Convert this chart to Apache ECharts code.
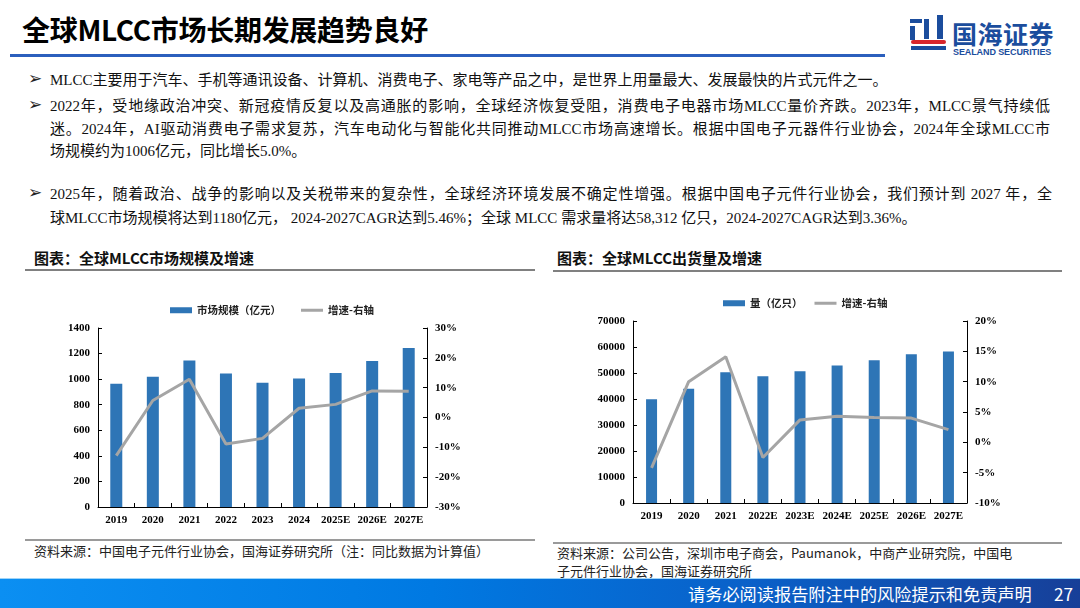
<!DOCTYPE html>
<html>
<head>
<meta charset="utf-8">
<script src="https://cdn.jsdelivr.net/npm/echarts@6/dist/echarts.min.js"></script>
<style>
  html,body{margin:0;padding:0;background:#fff;}
  body{width:1080px;height:608px;position:relative;overflow:hidden;font-family:"Liberation Serif","Noto Sans CJK SC",serif;}
  .abs{position:absolute;white-space:nowrap;}
  .title{left:22px;top:9px;font:bold 28px "Noto Sans CJK SC","Liberation Sans",sans-serif;color:#000;letter-spacing:-0.3px;}
  .tline{left:10px;top:54px;width:875px;height:3px;background:#2b5fbd;}
  .bul{font:bold 17px "DejaVu Sans",sans-serif;color:#222;left:28px;}
  .tx{left:50px;font-size:15px;color:#111;line-height:20px;}
  .j{width:1000px;text-align:justify;text-align-last:justify;white-space:normal;}
  .ct{font:bold 15px "Noto Sans CJK SC",sans-serif;color:#111;}
  .ul{height:2px;background:#808080;}
  .src{font:13px "Noto Sans CJK SC",sans-serif;color:#222;line-height:18px;}
  .foot{left:0;top:578px;width:1080px;height:30px;background:linear-gradient(90deg,#0b8ff2 0%,#0079e2 40%,#0a60c8 70%,#173f98 100%);border-top:1px solid #9fd4f7;}
  .ft{color:#fff;font:17.2px "Noto Sans CJK SC",sans-serif;}
  .logo-t{left:952px;top:15px;font:bold 25px "Noto Sans CJK SC",sans-serif;color:#1b4d9d;letter-spacing:0.5px;}
  .logo-s{left:953px;top:47px;font:bold 9px "Liberation Sans",sans-serif;color:#1b4d9d;letter-spacing:-0.1px;}
  .lb{background:#1b4d9d;}
  .lr{background:#d8262c;}
  #chart{position:absolute;left:0;top:0;width:1080px;height:608px;}
</style>
</head>
<body>
<div class="abs title">全球MLCC市场长期发展趋势良好</div>
<div class="abs tline"></div>

<div class="abs lb" style="left:910px;top:19px;width:12px;height:4px;"></div>
<div class="abs lb" style="left:910px;top:26px;width:5px;height:14px;"></div>
<div class="abs lb" style="left:924px;top:19px;width:5px;height:20px;"></div>
<div class="abs lb" style="left:937px;top:15px;width:6px;height:24px;"></div>
<div class="abs lr" style="left:911px;top:40px;width:35px;height:4px;border-radius:2px;"></div>
<div class="abs lb" style="left:911px;top:46px;width:35px;height:4px;"></div>
<div class="abs logo-t">国海证券</div>
<div class="abs logo-s">SEALAND SECURITIES</div>

<div class="abs bul" style="top:68px;">➢</div>
<div class="abs tx" style="top:70px;">MLCC主要用于汽车、手机等通讯设备、计算机、消费电子、家电等产品之中，是世界上用量最大、发展最快的片式元件之一。</div>
<div class="abs bul" style="top:94px;">➢</div>
<div class="abs tx j" style="top:96px;">2022年，受地缘政治冲突、新冠疫情反复以及高通胀的影响，全球经济恢复受阻，消费电子电器市场MLCC量价齐跌。2023年，MLCC景气持续低</div>
<div class="abs tx j" style="top:119px;">迷。2024年，AI驱动消费电子需求复苏，汽车电动化与智能化共同推动MLCC市场高速增长。根据中国电子元器件行业协会，2024年全球MLCC市</div>
<div class="abs tx" style="top:141px;">场规模约为1006亿元，同比增长5.0%。</div>
<div class="abs bul" style="top:182px;">➢</div>
<div class="abs tx j" style="top:184px;width:1002px;">2025年，随着政治、战争的影响以及关税带来的复杂性，全球经济环境发展不确定性增强。根据中国电子元件行业协会，我们预计到 2027 年，全</div>
<div class="abs tx" style="top:208px;">球MLCC市场规模将达到1180亿元， 2024-2027CAGR达到5.46%；全球 MLCC 需求量将达58,312 亿只，2024-2027CAGR达到3.36%。</div>

<div class="abs ct" style="left:34px;top:247px;">图表：全球MLCC市场规模及增速</div>
<div class="abs ul" style="left:25px;top:269px;width:510px;"></div>
<div class="abs ct" style="left:557px;top:247px;">图表：全球MLCC出货量及增速</div>
<div class="abs ul" style="left:553px;top:270px;width:509px;"></div>

<div class="abs ul" style="left:25px;top:539px;width:510px;background:#9a9a9a;"></div>
<div class="abs ul" style="left:553px;top:542px;width:509px;background:#9a9a9a;"></div>
<div class="abs src" style="left:34px;top:542px;">资料来源：中国电子元件行业协会，国海证券研究所（注：同比数据为计算值）</div>
<div class="abs src" style="left:557px;top:544px;">资料来源：公司公告，深圳市电子商会，Paumanok，中商产业研究院，中国电<br>子元件行业协会，国海证券研究所</div>

<div class="abs foot"></div>
<div class="abs ft" style="left:688px;top:581px;">请务必阅读报告附注中的风险提示和免责声明</div>
<div class="abs ft" style="left:1054px;top:581px;">27</div>

<div id="chart"></div>
<script>
const years1 = ['2019','2020','2021','2022','2023','2024','2025E','2026E','2027E'];
const market = [963, 1018, 1146, 1044, 971, 1006, 1049, 1141, 1243];
const marketGrowth = [-12.8, 5.7, 12.8, -8.9, -7.0, 3.1, 4.4, 8.9, 8.8];
const years2 = ['2019','2020','2021','2022E','2023E','2024E','2025E','2026E','2027E'];
const volume = [39900, 43900, 50300, 48750, 50650, 52850, 54900, 57200, 58312];
const volumeGrowth = [-4.2, 10.0, 14.1, -2.5, 3.7, 4.3, 4.1, 4.0, 2.1];

const BLUE = '#2e75b6', GRAY = '#a5a5a5';
const LINE_ICON = 'path://M0,0L0.01,0L0.01,6L0,6Z M0,1.6H22V4.4H0Z';
const lab = {fontFamily:'Liberation Serif', fontWeight:'bold', fontSize:11, color:'#000'};
const axLine = {show:true, lineStyle:{color:'#000', width:1}};
const tick = {show:true, inside:true, length:4, lineStyle:{color:'#000'}};
function yAx(gi, min, max, iv, pos, fmt){
  return {type:'value', gridIndex:gi, min:min, max:max, interval:iv, position:pos,
    axisLine:axLine, axisTick:tick, splitLine:{show:false},
    axisLabel:Object.assign({margin:8, formatter:fmt}, lab)};
}
function xAx(gi, data){
  return {type:'category', gridIndex:gi, data:data, axisLine:axLine,
    axisTick:Object.assign({alignWithLabel:false}, tick),
    axisLabel:Object.assign({margin:8, interval:0}, lab)};
}
const legText = {fontFamily:'Noto Sans CJK SC', fontSize:10.5, fontWeight:'bold', color:'#222'};
const chart = echarts.init(document.getElementById('chart'), null, {renderer:'canvas'});
chart.setOption({
  animation:false,
  grid:[
    {left:98, top:328, width:329, height:179},
    {left:633, top:321, width:334, height:182}
  ],
  legend:[
    {left:165, top:300, itemWidth:22, itemHeight:6, itemGap:20, textStyle:legText,
     data:[{name:'市场规模（亿元）', icon:'rect'}, {name:'增速-右轴', icon:LINE_ICON}]},
    {left:718, top:293, itemWidth:22, itemHeight:6, itemGap:12, textStyle:legText,
     data:[{name:'量（亿只）', icon:'rect'}, {name:'增速-右轴 ', icon:LINE_ICON}]}
  ],
  xAxis:[xAx(0, years1), xAx(1, years2)],
  yAxis:[
    yAx(0, 0, 1400, 200, 'left', v=>v),
    yAx(0, -30, 30, 10, 'right', v=>v+'%'),
    yAx(1, 0, 70000, 10000, 'left', v=>v),
    yAx(1, -10, 20, 5, 'right', v=>v+'%')
  ],
  series:[
    {name:'市场规模（亿元）', type:'bar', xAxisIndex:0, yAxisIndex:0, data:market, barWidth:12, itemStyle:{color:BLUE}},
    {name:'增速-右轴', type:'line', xAxisIndex:0, yAxisIndex:1, data:marketGrowth, symbol:'none', lineStyle:{color:GRAY, width:3}, itemStyle:{color:GRAY}},
    {name:'量（亿只）', type:'bar', xAxisIndex:1, yAxisIndex:2, data:volume, barWidth:11, itemStyle:{color:BLUE}},
    {name:'增速-右轴 ', type:'line', xAxisIndex:1, yAxisIndex:3, data:volumeGrowth, symbol:'none', lineStyle:{color:GRAY, width:3}, itemStyle:{color:GRAY}}
  ]
});
</script>
</body>
</html>
